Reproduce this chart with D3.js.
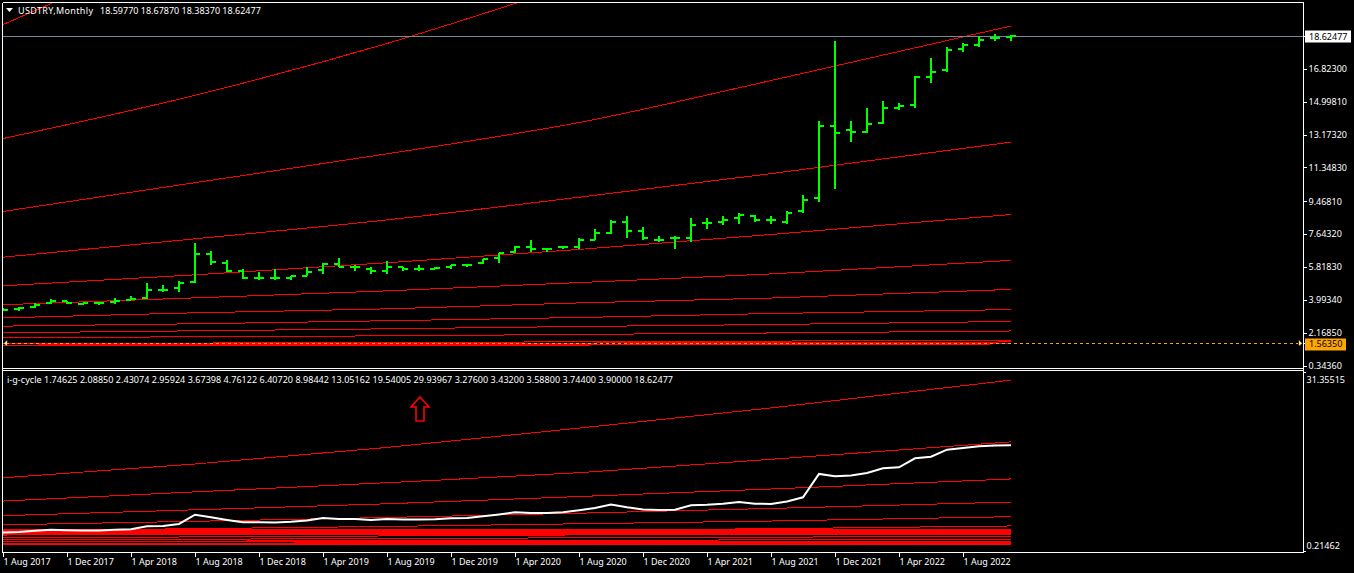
<!DOCTYPE html>
<html><head><meta charset="utf-8">
<script src="https://cdn.jsdelivr.net/npm/d3@7"></script>
<style>
html,body{margin:0;padding:0;background:#000;overflow:hidden}
svg{display:block}
text{font-family:"Noto Sans",sans-serif;font-size:9px;fill:#fff}
.domain{display:none}
</style></head><body><svg id="c" width="1354" height="573"></svg>
<script>
// OHLC, one entry per month
const opens=[3.45,3.47,3.57,3.79,3.92,3.75,3.80,3.86,3.99,4.07,4.56,4.64,4.97,6.53,6.03,5.58,5.23,5.23,5.18,5.34,5.64,5.97,5.80,5.72,5.62,5.80,5.68,5.73,5.79,5.95,6.01,6.29,6.62,6.95,6.84,6.90,6.95,7.34,7.73,8.29,7.79,7.34,7.40,7.45,8.25,8.29,8.51,8.67,8.40,8.34,8.90,9.62,13.62,13.40,13.34,13.84,14.67,14.84,16.39,16.73,17.90,18.17,18.52,18.5977];
const highs=[3.51,3.62,3.84,4.01,3.95,3.83,3.84,4.07,4.23,4.95,4.79,5.01,7.12,6.73,6.23,5.68,5.51,5.73,5.33,5.84,6.03,6.29,5.94,5.79,6.12,5.84,5.95,5.84,5.95,5.97,6.27,6.58,6.99,7.29,6.86,6.92,7.45,7.90,8.40,8.62,8.06,7.56,7.51,8.53,8.51,8.62,8.79,8.73,8.67,8.95,9.84,13.90,18.34,13.95,14.67,15.01,14.90,16.45,17.45,18.01,18.23,18.62,18.78,18.6787];
const lows=[3.40,3.36,3.53,3.75,3.75,3.69,3.69,3.75,3.97,4.01,4.40,4.45,4.92,5.90,5.51,5.14,5.12,5.12,5.12,5.29,5.40,5.79,5.62,5.45,5.40,5.62,5.62,5.68,5.68,5.79,5.97,6.01,6.58,6.67,6.67,6.79,6.84,7.29,7.62,7.45,7.29,7.18,6.84,7.18,7.95,8.17,8.23,8.34,8.23,8.23,8.79,9.45,10.17,12.73,13.23,13.73,14.51,14.67,16.01,16.62,17.73,18.06,18.39,18.3837];
const closes=[3.45,3.53,3.73,3.92,3.83,3.80,3.79,3.90,4.01,4.53,4.56,4.92,6.53,6.08,5.62,5.22,5.23,5.19,5.30,5.53,5.97,5.80,5.80,5.62,5.80,5.68,5.68,5.75,5.92,5.95,6.25,6.58,6.95,6.84,6.84,6.95,7.29,7.69,8.30,7.84,7.45,7.34,7.40,8.17,8.25,8.45,8.73,8.45,8.40,8.84,9.56,13.62,13.23,13.34,13.78,14.62,14.78,16.34,16.62,17.84,18.12,18.45,18.56,18.62477];
// channel lines read at these month indexes
const lineIndex=[0,12,24,36,48,63];
const lineZ=[19.28,24,29,35,43,54];
const lineA=[12.95,15.35,18.23,21.6,25.1,29.94];
const lineB=[8.90,10.5,12.1,13.84,16.17,19.2];
const lineC=[6.36,7.38,8.43,9.69,11.0,12.75];
const lineD=[4.77,5.38,6.05,6.79,7.62,8.73];
const lineE=[3.72,4.10,4.49,4.95,5.43,6.18];
const lineF=[2.99,3.27,3.49,3.82,4.09,4.57];
const lineG=[2.53,2.66,2.83,3.01,3.23,3.45];
const lineH=[2.16,2.27,2.38,2.51,2.62,2.79];
const lineI=[1.88,1.94,1.99,2.07,2.15,2.26];
const lineJ=[1.56,1.59,1.62,1.66,1.70,1.75];
const lineK1=[1.43,1.44,1.46,1.48,1.51,1.54];
const lineK2=[1.48,1.49,1.51,1.53,1.56,1.59];
const lineK3=[1.54,1.55,1.57,1.59,1.62,1.65];
const upperLines=[lineZ,lineA,lineB,lineC,lineD,lineE,lineF,lineG,lineH,lineI,lineJ,lineK1,lineK2,lineK3];
const lowerLines=[lineA,lineB,lineC,lineD,lineE,lineF,lineG,lineH,lineI,lineJ,lineK1,lineK2,lineK3];
// flat levels of the indicator pane
const levels=[3.276,3.432,3.588,3.744,3.9,3.1,3.0,1.3,1.47,1.81,1.95];
const priceTicks=[16.823,14.9981,13.1732,11.3483,9.4681,7.6432,5.8183,3.9934,2.1685,0.3436];
const indicatorTicks=[31.35515,0.21462];
const lastPrice=18.62477, askPrice=1.5635;
const monthTickIndex=[0,4,8,12,16,20,24,28,32,36,40,44,48,52,56,60];
const monthTicks=["1 Aug 2017","1 Dec 2017","1 Apr 2018","1 Aug 2018","1 Dec 2018","1 Apr 2019","1 Aug 2019","1 Dec 2019","1 Apr 2020","1 Aug 2020","1 Dec 2020","1 Apr 2021","1 Aug 2021","1 Dec 2021","1 Apr 2022","1 Aug 2022"];
const headerName="USDTRY,Monthly";
const headerValues="18.59770 18.67870 18.38370 18.62477";
const legendText="i-g-cycle 1.74625 2.08850 2.43074 2.95924 3.67398 4.76122 6.40720 8.98442 13.05162 19.54005 29.93967 3.27600 3.43200 3.58800 3.74400 3.90000 18.62477";
const arrowMonth=26, arrowValue=27;

const svg=d3.select("#c");
const W=1303.5, mainTop=2.5, mainBot=368.5, subTop=371, subBot=552.5;
const x=d3.scaleLinear().domain([0,63]).range([3,1011]);
const yM=d3.scaleLinear().domain([0.3436,16.823]).range([365.5,68.8]);
const yS=d3.scaleLinear().domain([0.21462,31.35515]).range([551,372]);

const defs=svg.append("defs");
defs.append("clipPath").attr("id","cm").append("rect").attr("x",3).attr("y",3).attr("width",1300).attr("height",365);
defs.append("clipPath").attr("id","cs").append("rect").attr("x",3).attr("y",372).attr("width",1300).attr("height",180);

svg.append("rect").attr("width",1354).attr("height",573).attr("fill","#000");

const redLine=(y)=>d3.line().curve(d3.curveMonotoneX).x((d,i)=>x(lineIndex[i])).y(d=>y(d));
const gm=svg.append("g").attr("clip-path","url(#cm)").attr("shape-rendering","crispEdges");
gm.selectAll("path.r").data(upperLines).join("path").attr("class","r")
  .attr("d",redLine(yM)).attr("fill","none").attr("stroke","#ff0000").attr("stroke-width",1);

// last price line
gm.append("line").attr("x1",3).attr("x2",W).attr("y1",yM(lastPrice)).attr("y2",yM(lastPrice)).attr("stroke","#778899");

// bars
const bars=gm.selectAll("g.b").data(d3.range(opens.length)).join("g").attr("class","b")
  .attr("stroke","#00ff00").attr("stroke-width",2);
bars.append("line").attr("x1",x).attr("x2",x).attr("y1",i=>yM(highs[i])).attr("y2",i=>yM(lows[i]));
bars.append("line").attr("x1",i=>x(i)-5).attr("x2",x).attr("y1",i=>yM(opens[i])).attr("y2",i=>yM(opens[i]));
bars.append("line").attr("x1",x).attr("x2",i=>x(i)+5).attr("y1",i=>yM(closes[i])).attr("y2",i=>yM(closes[i]));

// ask line
svg.append("line").attr("x1",6).attr("x2",1298).attr("y1",yM(askPrice)).attr("y2",yM(askPrice))
  .attr("stroke","#ffa500").attr("stroke-dasharray","3 3").attr("shape-rendering","crispEdges");
[[4,7],[1302,1299]].forEach(([a,b])=>{
  const yy=yM(askPrice);
  svg.append("path").attr("d",`M${a},${yy} L${b},${yy-3} L${b},${yy+2} Z`).attr("fill","#fff").attr("stroke","#ffa500").attr("stroke-width",0.5);
});

// indicator pane
const gs=svg.append("g").attr("clip-path","url(#cs)");
gs.selectAll("path.r").data(lowerLines).join("path").attr("class","r")
  .attr("d",redLine(yS)).attr("fill","none").attr("stroke","#ff0000").attr("shape-rendering","crispEdges");
gs.selectAll("line.l").data(levels).join("line").attr("class","l")
  .attr("x1",x(0)).attr("x2",x(63)).attr("y1",d=>yS(d)).attr("y2",d=>yS(d))
  .attr("stroke","#ff0000").attr("shape-rendering","crispEdges");
gs.append("path").datum(closes)
  .attr("d",d3.line().x((d,i)=>x(i)).y(d=>yS(d)))
  .attr("fill","none").attr("stroke","#fff").attr("stroke-width",2);

// arrow annotation
{
  const ax=x(arrowMonth)+1, ay=yS(arrowValue);
  svg.append("path").attr("d",`M${ax},${ay} l9,10 h-5 v14 h-8 v-14 h-5 Z`)
    .attr("fill","none").attr("stroke","#ff0000").attr("stroke-width",1.6);
}

// frames
const frame=svg.append("g").attr("stroke","#fff").attr("shape-rendering","crispEdges");
[[2.5,mainTop,W,mainTop],[2.5,mainBot,W,mainBot],[2.5,subTop-.5,W,subTop-.5],[2.5,subBot,W,subBot],[2.5,mainTop,2.5,subBot],[W,mainTop,W,subBot]]
  .forEach(([a,b,c,d])=>frame.append("line").attr("x1",a).attr("y1",b).attr("x2",c).attr("y2",d));

// right axis
const axM=svg.append("g").attr("transform",`translate(${W},0)`)
  .call(d3.axisRight(yM).tickValues(priceTicks).tickFormat(d3.format(".5f")).tickSize(3).tickPadding(2));
axM.selectAll("line").attr("stroke","#fff").attr("shape-rendering","crispEdges");
axM.selectAll("text").attr("fill","#fff").attr("font-family",null).attr("font-size",null);

const axS=svg.append("g").attr("transform",`translate(${W},0)`)
  .call(d3.axisRight(yS).tickValues(indicatorTicks).tickFormat(d3.format(".5f")).tickSize(2).tickPadding(1));
axS.selectAll("line").attr("stroke","#fff").attr("shape-rendering","crispEdges");
axS.selectAll("text").attr("fill","#fff").attr("font-family",null).attr("font-size",null);
axS.selectAll("text").filter(d=>d>10).attr("dy","10");
axS.selectAll("text").filter(d=>d<10).attr("dy","-3");

// price boxes
function box(v,wd,bg){
  const yy=yM(v);
  svg.append("line").attr("x1",W).attr("x2",W+3).attr("y1",yy).attr("y2",yy).attr("stroke","#fff").attr("shape-rendering","crispEdges");
  svg.append("rect").attr("x",1305).attr("y",Math.round(yy)-5.5).attr("width",wd).attr("height",12).attr("fill",bg);
  svg.append("text").attr("x",1309).attr("y",yy).attr("dy","3.5").style("fill","#000").text(d3.format(".5f")(v));
}
box(lastPrice,46,"#fff");
box(askPrice,41,"#ffa500");

// time axis
const axT=svg.append("g").attr("transform",`translate(0,${subBot})`)
  .call(d3.axisBottom(x).tickValues(monthTickIndex).tickFormat((d,i)=>monthTicks[i]).tickSize(4).tickPadding(2));
axT.selectAll("line").attr("stroke","#fff").attr("shape-rendering","crispEdges");
axT.selectAll("text").attr("fill","#fff").attr("text-anchor","start").attr("font-family",null).attr("font-size",null);

// header and legend
svg.append("path").attr("d","M6,8 h7 l-3.5,4 Z").attr("fill","#fff");
svg.append("text").attr("x",18).attr("y",13.5).attr("textLength",75).text(headerName);
svg.append("text").attr("x",100).attr("y",13.5).text(headerValues);
svg.append("text").attr("x",7).attr("y",383).attr("textLength",666).text(legendText);
</script></body></html>
